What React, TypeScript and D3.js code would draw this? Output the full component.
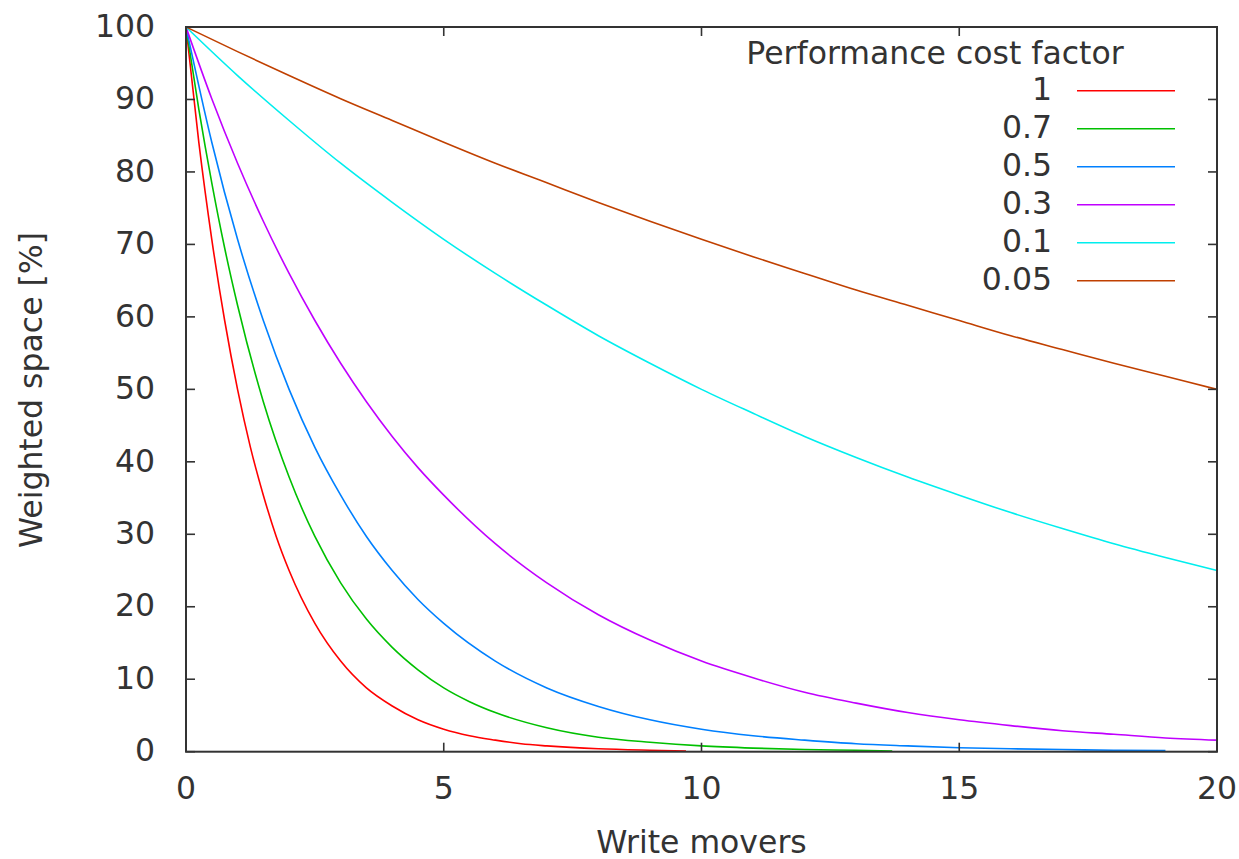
import React from "react";
import * as d3 from "d3";

// ---- data ----
const xTicks = [0, 5, 10, 15, 20];
const yTicks = [0, 10, 20, 30, 40, 50, 60, 70, 80, 90, 100];
const seriesNames = ["1", "0.7", "0.5", "0.3", "0.1", "0.05"];
const seriesColors = ["#ff0000", "#00c000", "#0080ff", "#c000ff", "#00eeee", "#c04000"];

const xs1 = [0, 0.25, 0.5, 0.75, 1, 1.25, 1.5, 1.75, 2, 2.5, 3, 3.5, 4, 4.5, 5, 5.5, 6, 6.5, 7, 8, 9, 9.7];
const ys1 = [100, 84, 70.7, 59.5, 50, 42, 35.4, 29.7, 25, 17.7, 12.5, 8.8, 6.3, 4.4, 3.1, 2.2, 1.6, 1.1, 0.8, 0.4, 0.2, 0.1];

const xs07 = [0, 0.25, 0.5, 0.75, 1, 1.5, 2, 2.5, 3, 3.5, 4, 4.5, 5, 5.5, 6, 7, 8, 9, 10, 11, 12, 13, 13.7];
const ys07 = [100, 88.6, 78.5, 69.5, 61.6, 48.3, 37.9, 29.7, 23.3, 18.3, 14.4, 11.3, 8.8, 6.9, 5.4, 3.3, 2.0, 1.3, 0.8, 0.5, 0.3, 0.2, 0.1];

const xs05 = [0, 0.5, 1, 1.5, 2, 2.5, 3, 3.5, 4, 4.5, 5, 6, 7, 8, 9, 10, 11, 12, 13, 14, 15, 16, 17, 18, 19];
const ys05 = [100, 84.1, 70.7, 59.5, 50, 42, 35.4, 29.7, 25, 21, 17.7, 12.5, 8.8, 6.25, 4.4, 3.1, 2.2, 1.6, 1.1, 0.8, 0.55, 0.4, 0.3, 0.2, 0.15];

const xs03 = [0, 0.5, 1, 1.5, 2, 2.5, 3, 3.5, 4, 4.5, 5, 6, 7, 8, 9, 10, 11, 12, 13, 14, 15, 16, 17, 18, 19, 20];
const ys03 = [100, 90.1, 81.2, 73.2, 66, 59.5, 53.6, 48.3, 43.5, 39.2, 35.4, 28.7, 23.3, 18.9, 15.4, 12.5, 10.2, 8.2, 6.7, 5.4, 4.4, 3.6, 2.9, 2.4, 1.9, 1.6];

const xs01 = [0, 1, 2, 3, 4, 5, 6, 7, 8, 9, 10, 11, 12, 13, 14, 15, 16, 17, 18, 19, 20];
const ys01 = [100, 93.3, 87.1, 81.2, 75.8, 70.7, 66, 61.6, 57.4, 53.6, 50, 46.7, 43.5, 40.6, 37.9, 35.4, 33, 30.8, 28.7, 26.8, 25];

const xs005 = [0, 1, 2, 3, 4, 5, 6, 7, 8, 9, 10, 11, 12, 13, 14, 15, 16, 17, 18, 19, 20];
const ys005 = [100, 96.6, 93.3, 90.1, 87.1, 84.1, 81.2, 78.5, 75.8, 73.2, 70.7, 68.3, 66, 63.7, 61.6, 59.5, 57.4, 55.5, 53.6, 51.8, 50];

const seriesX = [xs1, xs07, xs05, xs03, xs01, xs005];
const seriesY = [ys1, ys07, ys05, ys03, ys01, ys005];

const W = 1239;
const H = 859;
const L = 186, R = 1217, T = 27, B = 751.7;
const FONT = "'DejaVu Sans', sans-serif";
const FS = 31.5;
const TXT = "#333";

export default function App() {
  const x = d3.scaleLinear().domain([0, 20]).range([L, R]);
  const y = d3.scaleLinear().domain([0, 100]).range([B, T]);
  const line = d3
    .line<[number, number]>()
    .x((d) => x(d[0]))
    .y((d) => y(d[1]))
    .curve(d3.curveMonotoneX);

  const tickLen = 9;

  return (
    <svg
      width={W}
      height={H}
      style={{ position: "absolute", left: 0, top: 0, background: "#fff" }}
      fontFamily={FONT}
    >
      <rect x={0} y={0} width={W} height={H} fill="#fff" />
      {/* curves */}
      <g fill="none" strokeWidth={1.6} strokeLinejoin="round">
        {seriesX.map((xsArr, i) => {
          const pts: [number, number][] = xsArr.map((v, j) => [v, seriesY[i][j]]);
          return <path key={i} d={line(pts) || ""} stroke={seriesColors[i]} />;
        })}
      </g>
      {/* frame */}
      <rect x={L} y={T} width={R - L} height={B - T} fill="none" stroke="#333" strokeWidth={2} />
      {/* ticks */}
      <g stroke="#333" strokeWidth={1.6}>
        {xTicks.map((t) => (
          <g key={"xt" + t}>
            <line x1={x(t)} x2={x(t)} y1={B} y2={B - tickLen} />
            <line x1={x(t)} x2={x(t)} y1={T} y2={T + tickLen} />
          </g>
        ))}
        {yTicks.map((t) => (
          <g key={"yt" + t}>
            <line x1={L} x2={L + tickLen} y1={y(t)} y2={y(t)} />
            <line x1={R} x2={R - tickLen} y1={y(t)} y2={y(t)} />
          </g>
        ))}
      </g>
      {/* tick labels */}
      <g fill={TXT} fontSize={FS}>
        {xTicks.map((t) => (
          <text key={"xl" + t} x={x(t)} y={799} textAnchor="middle">
            {t}
          </text>
        ))}
        {yTicks.map((t) => (
          <text key={"yl" + t} x={155} y={y(t) + 9.7} textAnchor="end">
            {t}
          </text>
        ))}
      </g>
      {/* axis titles */}
      <text x={701.5} y={853} textAnchor="middle" fill={TXT} fontSize={FS}>
        Write movers
      </text>
      <text
        transform={`translate(42, 390) rotate(-90)`}
        textAnchor="middle"
        fill={TXT}
        fontSize={FS}
      >
        Weighted space [%]
      </text>
      {/* legend */}
      <text x={935} y={64} textAnchor="middle" fill={TXT} fontSize={FS}>
        Performance cost factor
      </text>
      {seriesNames.map((n, i) => {
        const ly = 90.7 + 38 * i;
        return (
          <g key={"lg" + n}>
            <text x={1052} y={ly + 9.5} textAnchor="end" fill={TXT} fontSize={FS}>
              {n}
            </text>
            <line x1={1077} x2={1175} y1={ly} y2={ly} stroke={seriesColors[i]} strokeWidth={1.6} />
          </g>
        );
      })}
    </svg>
  );
}
